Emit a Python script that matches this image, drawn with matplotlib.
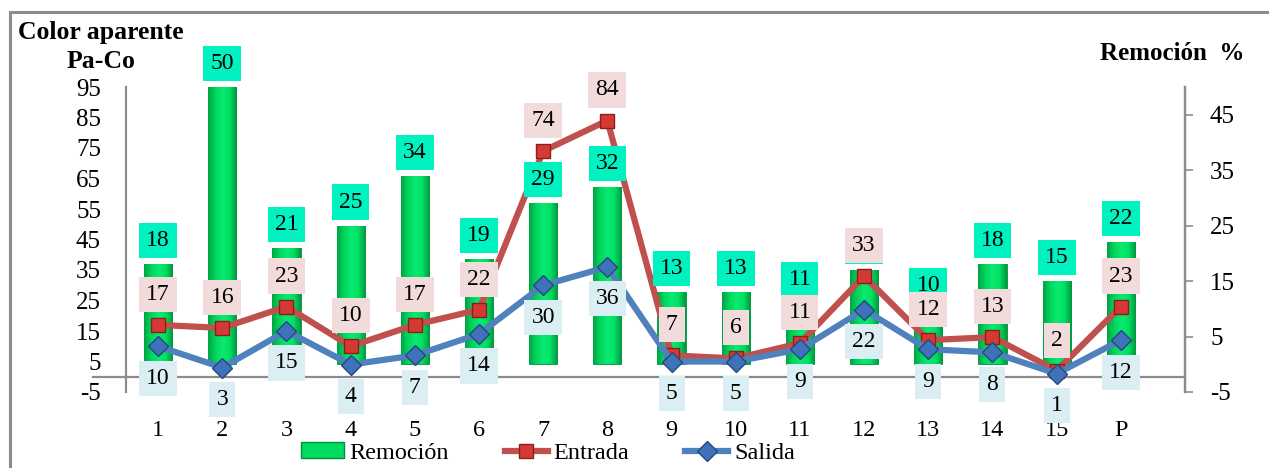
import numpy as np
import matplotlib
matplotlib.use('Agg')
import matplotlib.pyplot as plt
from matplotlib.colors import LinearSegmentedColormap
from matplotlib.patches import Patch, Rectangle
from matplotlib.lines import Line2D

# data
categorias = ['1', '2', '3', '4', '5', '6', '7', '8', '9', '10', '11', '12', '13', '14', '15', 'P']
remocion = [18, 50, 21, 25, 34, 19, 29, 32, 13, 13, 11, 17, 10, 18, 15, 22]
entrada = [17, 16, 23, 10, 17, 22, 74, 84, 7, 6, 11, 33, 12, 13, 2, 23]
salida = [10, 3, 15, 4, 7, 14, 30, 36, 5, 5, 9, 22, 9, 8, 1, 12]

plt.rcParams['font.family'] = ['Liberation Serif', 'DejaVu Serif']
plt.rcParams['axes.unicode_minus'] = False

W, H = 1269, 468
fig = plt.figure(figsize=(W / 100, H / 100), dpi=100)

# outer chart frame (cut off on right and bottom)
fig.patches.append(Rectangle((10 / W, -0.1), 1.2, 1 - 12 / H + 0.1, transform=fig.transFigure,
                             fill=False, edgecolor='#8c8c8c', linewidth=2.2))

left, right, top, bottom = 126 / W, 1185 / W, 1 - 87 / H, 1 - 392 / H
ax_bar = fig.add_axes([left, bottom, right - left, top - bottom])
ax_line = ax_bar.twinx()

x = np.arange(len(categorias))
bw = 0.44

# bars (right axis)
green = LinearSegmentedColormap.from_list('g', ['#00a446', '#00d65c', '#0aea70', '#00e062', '#009640'])
grad = np.linspace(0, 1, 64).reshape(1, -1)
bars = ax_bar.bar(x, remocion, width=bw, color='#00dc60', edgecolor='#00903c', linewidth=0.6, zorder=2)
for b in bars:
    im = ax_bar.imshow(grad, cmap=green, aspect='auto', zorder=2.1,
                       extent=[b.get_x(), b.get_x() + b.get_width(), 0, b.get_height()])
    im.set_clip_path(b)
ax_bar.set_ylim(-5, 50)
ax_bar.set_xlim(-0.5, 16.0)
ax_bar.set_yticks([-5, 5, 15, 25, 35, 45])
ax_bar.yaxis.tick_right()
ax_bar.tick_params(axis='y', direction='out', length=6, width=1.2, color='#8c8c8c',
                   labelsize=18, pad=12)
ax_bar.set_xticks(x)
ax_bar.set_xticklabels(categorias)
ax_bar.tick_params(axis='x', length=0, labelsize=17.5, pad=20)

# lines (left axis)
ax_line.plot(x, entrada, color='#c0504d', linewidth=4.5, marker='s', markersize=10,
             markerfacecolor='#d43a33', markeredgecolor='#8a1f1c', markeredgewidth=1, zorder=3)
ax_line.plot(x, salida, color='#4f81bd', linewidth=4.5, marker='D', markersize=10.5,
             markerfacecolor='#3f72b8', markeredgecolor='#24497c', markeredgewidth=1, zorder=3)
ax_line.set_ylim(-5, 95)
ax_line.set_yticks(np.arange(-5, 96, 10))
ax_line.yaxis.tick_left()
ax_line.tick_params(axis='y', length=0, labelsize=18, pad=18)
ax_line.axhline(0, xmin=-0.031, xmax=1, color='#8c8c8c', linewidth=1.6, clip_on=False, zorder=1)

for a in (ax_bar, ax_line):
    a.spines['top'].set_visible(False)
    a.spines['bottom'].set_visible(False)
    for s in ('left', 'right'):
        a.spines[s].set_color('#8c8c8c')
        a.spines[s].set_linewidth(1.6)
ax_bar.spines['left'].set_visible(False)
ax_line.set_xlim(ax_bar.get_xlim())

# data labels
box = dict(boxstyle='square,pad=0.3', edgecolor='none')
for xi, v in zip(x, remocion):
    ax_line.annotate(str(v), (xi, v), xycoords=ax_bar.transData, xytext=(0, 17),
                     textcoords='offset points', ha='center', va='center', fontsize=17,
                     bbox=dict(box, facecolor='#00f2c0'), zorder=5)
for xi, v in zip(x, entrada):
    ax_line.annotate(str(v), (xi, v), xytext=(0, 22), textcoords='offset points',
                     ha='center', va='center', fontsize=17,
                     bbox=dict(box, facecolor='#f2dcdb'), zorder=5)
for xi, v in zip(x, salida):
    ax_line.annotate(str(v), (xi, v), xytext=(0, -23), textcoords='offset points',
                     ha='center', va='center', fontsize=17,
                     bbox=dict(box, facecolor='#dbeef4'), zorder=5)

# axis titles
fig.text(101 / W, 1 - 32 / H, 'Color aparente', ha='center', va='center',
         fontsize=18.5, fontweight='bold')
fig.text(101 / W, 1 - 62 / H, 'Pa-Co', ha='center', va='center',
         fontsize=18.5, fontweight='bold')
fig.text(1172 / W, 1 - 54 / H, 'Remoción  %', ha='center', va='center',
         fontsize=18, fontweight='bold')

# legend
handles = [
    Patch(facecolor='#00dc60', edgecolor='#00903c'),
    Line2D([], [], color='#c0504d', linewidth=4.5, marker='s', markersize=10,
           markerfacecolor='#d43a33', markeredgecolor='#8a1f1c'),
    Line2D([], [], color='#4f81bd', linewidth=4.5, marker='D', markersize=10.5,
           markerfacecolor='#3f72b8', markeredgecolor='#24497c'),
]
fig.legend(handles, ['Remoción', 'Entrada', 'Salida'], loc='center',
           bbox_to_anchor=(548 / W, 1 - 453 / H), ncol=3, frameon=False, fontsize=17.5,
           handlelength=1.75, handleheight=0.6, handletextpad=0.25, columnspacing=2.3,
           borderpad=0)

fig.savefig('out.png', dpi=100)
